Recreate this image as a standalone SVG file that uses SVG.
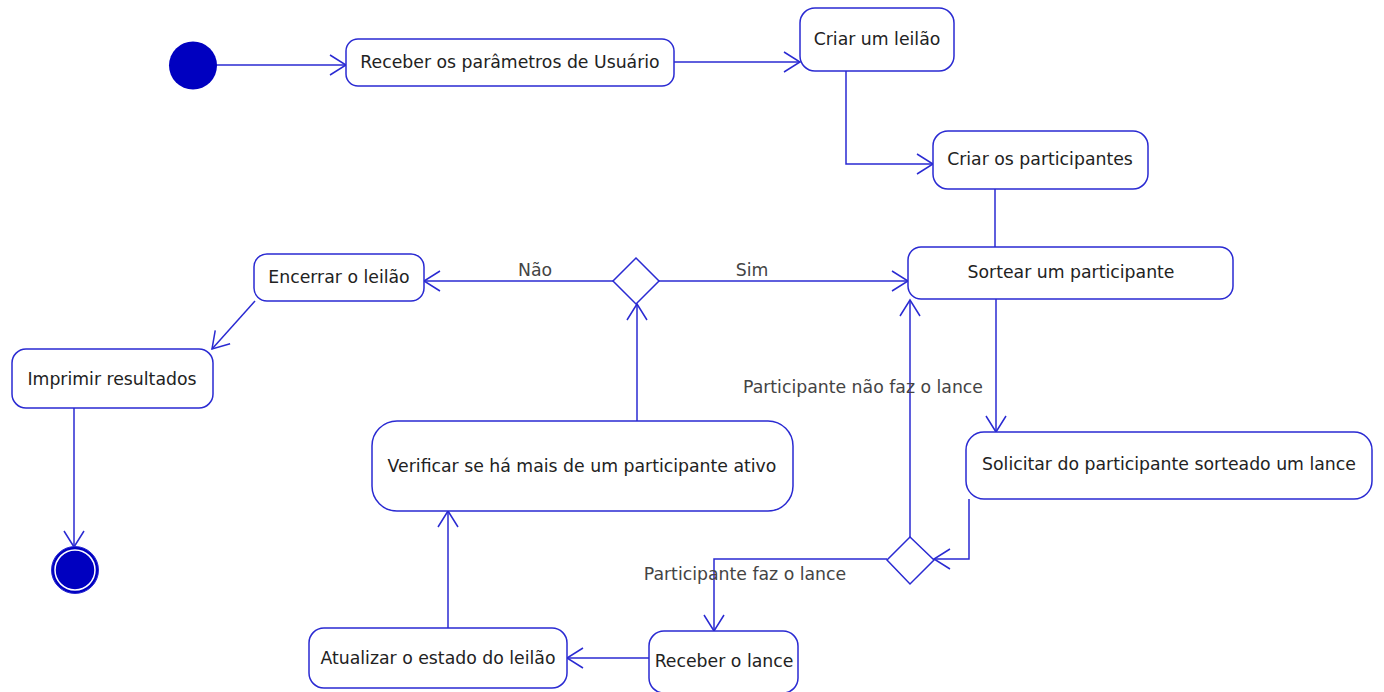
<svg xmlns="http://www.w3.org/2000/svg" width="1384" height="692" viewBox="0 0 1384 692">
<style>
.box{fill:#fff;stroke:#2a2ad2;stroke-width:1.5}
.t{font-family:"DejaVu Sans",sans-serif;font-size:17.3px;fill:#222;text-anchor:middle}
.lb{font-family:"DejaVu Sans",sans-serif;font-size:17.3px;fill:#444;text-anchor:middle}
.c{fill:none;stroke:#2a2ad2;stroke-width:1.5}
.ca{fill:none;stroke:#2a2ad2;stroke-width:1.5;marker-end:url(#arr)}
</style>
<defs>
<marker id="arr" markerUnits="userSpaceOnUse" markerWidth="20" markerHeight="24" viewBox="-18 -12 20 24" refX="0" refY="0" orient="auto">
<path d="M-16,-10 L0,0 L-16,10" fill="none" stroke="#2a2ad2" stroke-width="1.5"/>
</marker>
</defs>
<rect width="1384" height="692" fill="#fff"/>
<g id="connectors">
<path class="ca" d="M216,65 H346"/>
<path class="ca" d="M674,62 H800"/>
<path class="ca" d="M846,71 V164 H933"/>
<path class="c" d="M995,189 V247"/>
<path class="ca" d="M659,281 H908"/>
<path class="ca" d="M613,281 H424"/>
<path class="ca" d="M255,301 L212,349"/>
<path class="ca" d="M74,408 V547"/>
<path class="ca" d="M996,299 V432"/>
<path class="ca" d="M969,499 V559 H934"/>
<path class="ca" d="M910,537 V300"/>
<path class="ca" d="M887,559 H714 V631"/>
<path class="ca" d="M649,658 H567"/>
<path class="ca" d="M448,628 V511"/>
<path class="ca" d="M637,421 V304"/>
<text class="lb" x="752" y="276">Sim</text>
<text class="lb" x="535" y="276">Não</text>
<text class="lb" x="863" y="393">Participante não faz o lance</text>
<text class="lb" x="745" y="580">Participante faz o lance</text>
</g>
<g id="start"><circle cx="193" cy="65.5" r="24" fill="#0000c0"/></g>
<g id="n1"><rect class="box" x="346" y="39" width="328" height="47" rx="12"/><text class="t" x="510" y="68">Receber os parâmetros de Usuário</text></g>
<g id="n2"><rect class="box" x="800" y="8" width="154" height="63" rx="15"/><text class="t" x="877" y="45">Criar um leilão</text></g>
<g id="n3"><rect class="box" x="933" y="131" width="215" height="58" rx="15"/><text class="t" x="1040" y="165">Criar os participantes</text></g>
<g id="n4"><rect class="box" x="908" y="247" width="325" height="52" rx="13"/><text class="t" x="1071" y="278">Sortear um participante</text></g>
<g id="d1"><path class="box" d="M636,258 L659,281 L636,304 L613,281 Z"/></g>
<g id="n5"><rect class="box" x="254" y="254" width="170" height="47" rx="13"/><text class="t" x="339" y="283">Encerrar o leilão</text></g>
<g id="n6"><rect class="box" x="12" y="349" width="201" height="59" rx="14"/><text class="t" x="112" y="385">Imprimir resultados</text></g>
<g id="end"><circle cx="75" cy="570" r="23.5" fill="#0000c0" stroke="#2a2ad2" stroke-width="1"/><circle cx="75" cy="570" r="20" fill="none" stroke="#fff" stroke-width="1.5"/></g>
<g id="n7"><rect class="box" x="372" y="421" width="421" height="90" rx="25"/><text class="t" x="582" y="472">Verificar se há mais de um participante ativo</text></g>
<g id="n8"><rect class="box" x="966" y="432" width="406" height="67" rx="18"/><text class="t" x="1169" y="470">Solicitar do participante sorteado um lance</text></g>
<g id="d2"><path class="box" d="M910,537 L934,560 L910,584 L887,560 Z"/></g>
<g id="n9"><rect class="box" x="309" y="628" width="258" height="60" rx="15"/><text class="t" x="438" y="664">Atualizar o estado do leilão</text></g>
<g id="n10"><rect class="box" x="649" y="631" width="149" height="62" rx="15"/><text class="t" x="724" y="667">Receber o lance</text></g>
</svg>
